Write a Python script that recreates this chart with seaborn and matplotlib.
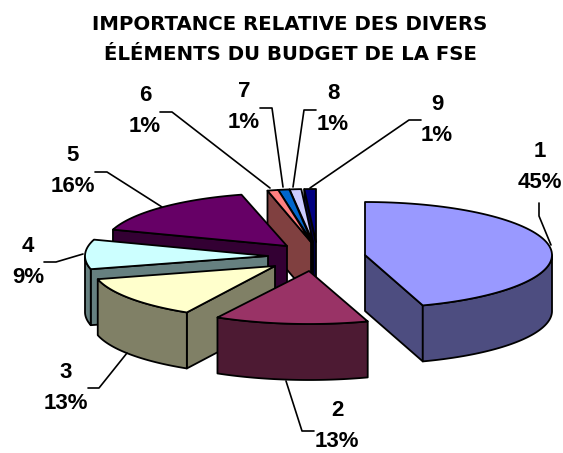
# Exploded 3D-look pie, budget shares
import numpy as np
import matplotlib
matplotlib.use("Agg")
import matplotlib.pyplot as plt
import seaborn as sns

sns.set_theme(style="white")

# data
labels = ['1', '2', '3', '4', '5', '6', '7', '8', '9']
values = [45, 13, 13, 9, 16, 1, 1, 1, 1]
title_lines = ['IMPORTANCE RELATIVE DES DIVERS', 'ÉLÉMENTS DU BUDGET DE LA FSE']
colors = ['#9999FF', '#993366', '#FFFFCC', '#CCFFFF', '#660066',
          '#FF8080', '#0066CC', '#CCCCFF', '#000080']

# layout, in pixels of the 563x453 picture
apex_x = [365, 309, 275, 268, 287, 311, 312, 313, 316]
apex_y = [255, 271, 266, 256, 246, 242, 242, 242, 242]
radius = [187, 190, 183, 183, 183, 175, 181, 187, 187]
label_x = [540, 337, 66, 28, 73, 145, 244, 333, 437]
label_y = [167, 426, 388, 262, 171, 111, 107, 109, 120]
leaders = [[(539, 203), (539, 216), (551, 245)],
           [(286, 381), (302, 431), (314, 431)],
           [(88, 388), (99, 388), (127, 353)],
           [(44, 262), (56, 262), (83, 254)],
           [(95, 172), (107, 172), (162, 207)],
           [(160, 112), (172, 112), (270, 188)],
           [(260, 108), (272, 108), (283, 187)],
           [(316, 110), (304, 110), (293, 187)],
           [(421, 120), (409, 120), (310, 188)]]
ry = 53
depth = 56

pal = sns.color_palette(colors)
fig = plt.figure(figsize=(5.63, 4.53), dpi=100)
ax = fig.add_axes([0, 0, 1, 1])
ax.set_xlim(0, 563)
ax.set_ylim(453, 0)
ax.axis('off')

edges = np.cumsum([0] + values) * 3.6


def edge_pt(i, t):
    r = np.radians(t)
    return apex_x[i] + radius[i] * np.sin(r), apex_y[i] - ry * np.cos(r)


def poly(xs, ys, c, z):
    ax.fill(xs, ys, facecolor=c, edgecolor='black', lw=1.3, joinstyle='round', zorder=z)


# back to front: small slices first, the big one last
for z, i in enumerate([8, 7, 6, 5, 4, 3, 2, 1, 0]):
    t1, t2 = edges[i], edges[i + 1]
    top = pal[i]
    wall = tuple(np.array(top) * 0.5)
    ts = np.linspace(t1, t2, 80)
    xs, ys = edge_pt(i, ts)
    # straight cut faces, only those turned to the viewer
    for t, n in [(t1, t1 - 90), (t2, t2 + 90)]:
        if np.cos(np.radians(n)) < -1e-6:
            ex, ey = edge_pt(i, t)
            poly([apex_x[i], ex, ex, apex_x[i]],
                 [apex_y[i], ey, ey + depth, apex_y[i] + depth], wall, z)
    # rim, lower half of the ellipse
    lo, hi = max(t1, 90), min(t2, 270)
    if lo < hi:
        rt = np.linspace(lo, hi, 80)
        rx_, ry_ = edge_pt(i, rt)
        poly(np.r_[rx_, rx_[::-1]], np.r_[ry_, ry_[::-1] + depth], wall, z)
    poly(np.r_[apex_x[i], xs], np.r_[apex_y[i], ys], top, z)

for pts in leaders:
    px, py = zip(*pts)
    ax.plot(px, py, color='black', lw=1.2, zorder=20)

for i, lab in enumerate(labels):
    ax.text(label_x[i], label_y[i], f'{lab}\n{values[i]}%', ha='center', va='center',
            family='Liberation Sans', weight='bold', fontsize=16, linespacing=1.62,
            color='black', zorder=21)

ax.text(290, 30, title_lines[0], ha='center', va='baseline', family='DejaVu Sans',
        weight='bold', fontsize=14.25, color='black')
ax.text(290, 60, title_lines[1], ha='center', va='baseline', family='DejaVu Sans',
        weight='bold', fontsize=14.25, color='black')

fig.savefig('out.png', dpi=100, facecolor='white')
